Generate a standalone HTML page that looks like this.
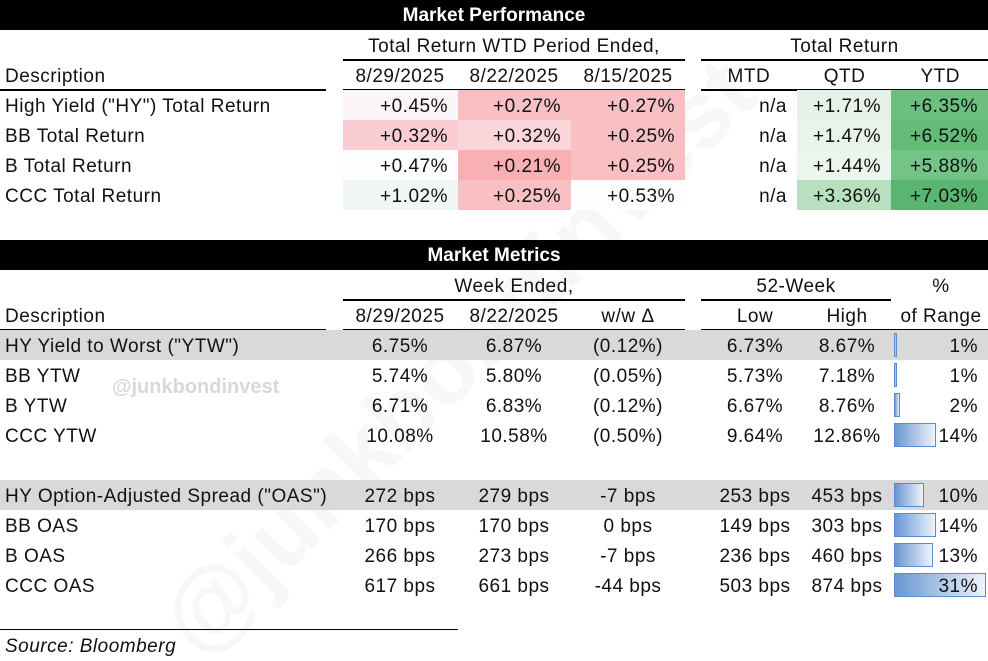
<!DOCTYPE html>
<html style="overflow:hidden;width:988px;height:661px"><head><meta charset="utf-8"><style>
body{margin:0;background:#fff;width:988px;height:661px;overflow:hidden;font-family:"Liberation Sans",sans-serif;color:#111;position:relative}
.a{position:absolute;white-space:nowrap;font-size:19px;line-height:30px;letter-spacing:0.5px;padding-top:2px;box-sizing:border-box;height:30px}
.band{position:absolute;left:0;width:988px;height:30px;background:#000;color:#fff;font-weight:bold;text-align:center;font-size:19px;line-height:31px}
.ln{position:absolute;height:1.5px;background:#000}
.r{text-align:right}.c{text-align:center}
</style></head><body>
<svg style="position:absolute;left:0;top:0" width="988" height="661"><text x="0" y="0" transform="translate(200,660) rotate(-45)" font-family="Liberation Sans, sans-serif" font-weight="bold" font-size="95" fill="#f7f7f7">@junkbondinvest</text></svg>
<div class="a" style="left:112px;top:370px;color:#d8d8d8;font-weight:bold;font-size:20px;letter-spacing:0">@junkbondinvest</div>
<div class="band" style="top:0">Market Performance</div>
<div class="band" style="top:240px">Market Metrics</div>
<div id="root"></div>
<div class="ln" style="left:0;top:629px;width:458px;height:1px"></div>
<div class="a" style="left:5px;top:630px;font-style:italic">Source: Bloomberg</div>
<script>
const perfRows=["High Yield (\"HY\") Total Return","BB Total Return","B Total Return","CCC Total Return"];
const perfW1=["+0.45%","+0.32%","+0.47%","+1.02%"];
const perfW2=["+0.27%","+0.32%","+0.21%","+0.25%"];
const perfW3=["+0.27%","+0.25%","+0.25%","+0.53%"];
const perfMTD=["n/a","n/a","n/a","n/a"];
const perfQTD=["+1.71%","+1.47%","+1.44%","+3.36%"];
const perfYTD=["+6.35%","+6.52%","+5.88%","+7.03%"];
const w1Col=["#fbf5f8","#f9cdd2","#fdfcfe","#f1f7f3"];
const w2Col=["#f9c0c3","#fad5d9","#f8b0b2","#f9c0c3"];
const w3Col=["#f9c0c3","#f9c0c3","#f9c0c3","#fefefe"];
const qCol=["#e6f2e8","#e8f3ea","#ebf5ed","#b9dfc1"];
const yCol=["#6cbf7f","#63bb77","#74c387","#5ab570"];
const metRows=["HY Yield to Worst (\"YTW\")","BB YTW","B YTW","CCC YTW","","HY Option-Adjusted Spread (\"OAS\")","BB OAS","B OAS","CCC OAS"];
const metCur=["6.75%","5.74%","6.71%","10.08%","","272 bps","170 bps","266 bps","617 bps"];
const metPrev=["6.87%","5.80%","6.83%","10.58%","","279 bps","170 bps","273 bps","661 bps"];
const metChg=["(0.12%)","(0.05%)","(0.12%)","(0.50%)","","-7 bps","0 bps","-7 bps","-44 bps"];
const metLow=["6.73%","5.73%","6.67%","9.64%","","253 bps","149 bps","236 bps","503 bps"];
const metHigh=["8.67%","7.18%","8.76%","12.86%","","453 bps","303 bps","460 bps","874 bps"];
const metPct=[1,1,2,14,null,10,14,13,31];
const root=document.getElementById('root');
function t(x,y,w,txt,cls,name,bg){const d=document.createElement('div');d.className='a '+(cls||'');d.style.left=x+'px';d.style.top=y+'px';d.style.width=w+'px';d.textContent=txt;if(bg)d.style.background=bg;


root.appendChild(d);return d;}
function ln(x,y,w,name){const d=document.createElement('div');d.className='ln';d.style.left=x+'px';d.style.top=y+'px';d.style.width=w+'px';


root.appendChild(d);}
t(343,30,342,"Total Return WTD Period Ended,","c","wtd-group-header");
t(701,30,287,"Total Return","c","total-return-group-header");
ln(343,59,342,"wtd-rule");ln(701,59,287,"tr-rule");
t(5,60,300,"Description","","description-header");
["8/29/2025","8/22/2025","8/15/2025"].forEach((s,i)=>t(343+i*114,60,114,s,"c","wtd-date-header"));
["MTD","QTD","YTD"].forEach((s,i)=>t(701+i*95.7,60,95.7,s,"c","period-header"));
ln(0,89,326,"desc-rule");ln(343,89,342,"wtd-rule-2");ln(701,89,287,"tr-rule-2");
perfRows.forEach((r,i)=>{const y=90+i*30;
t(5,y,320,r,"","perf-row-label");
t(343,y,115,perfW1[i],"r","perf-w1-cell",w1Col[i]);
t(458,y,113,perfW2[i],"r","perf-w2-cell",w2Col[i]);
t(571,y,114,perfW3[i],"r","perf-w3-cell",w3Col[i]);
t(701,y,96,perfMTD[i],"r","perf-mtd-cell");
t(797,y,94,perfQTD[i],"r","perf-qtd-cell",qCol[i]);
t(891,y,97,perfYTD[i],"r","perf-ytd-cell",yCol[i]);
});
root.querySelectorAll('.r').forEach(e=>{e.style.paddingRight='10px';});
t(343,270,342,"Week Ended,","c","week-ended-header");
t(701,270,190,"52-Week","c","52-week-header");
t(894,270,94,"%","c","pct-header");
ln(343,299,342,"we-rule");ln(701,299,190,"52w-rule");
t(5,300,300,"Description","","description-header-2");
["8/29/2025","8/22/2025","w/w \u0394"].forEach((s,i)=>t(343+i*114,300,114,s,"c","metric-col-header"));
t(701,300,108,"Low","c","low-header");t(803,300,88,"High","c","high-header");
t(894,300,94,"of Range","c","range-header");
ln(0,329,326,"desc-rule-2");ln(343,329,342,"we-rule-2");ln(701,329,287,"52w-rule-2");
const barX=894,barMax=92,pctMax=31;
metRows.forEach((r,i)=>{const y=330+i*30;if(!r)return;
if(i===0||i===5){t(0,y,988,"","","highlight-row","#d9d9d9");}
t(5,y,340,r,"","metric-row-label");
t(343,y,114,metCur[i],"c","metric-current");
t(457,y,114,metPrev[i],"c","metric-prior");
t(571,y,114,metChg[i],"c","metric-change");
t(701,y,108,metLow[i],"c","metric-low");
t(803,y,88,metHigh[i],"c","metric-high");
const b=document.createElement('div');b.style.cssText='position:absolute;box-sizing:border-box;border:1px solid #5a8ad0;background:linear-gradient(to right,#6a96d3,#eef3fb)';
b.style.left=barX+'px';b.style.top=(y+3)+'px';b.style.height='24px';b.style.width=Math.max(2,metPct[i]/pctMax*barMax)+'px';


root.appendChild(b);
const p=t(894,y,94,metPct[i]+"%","r","range-pct");p.style.paddingRight='10px';
});
</script>
</body></html>
